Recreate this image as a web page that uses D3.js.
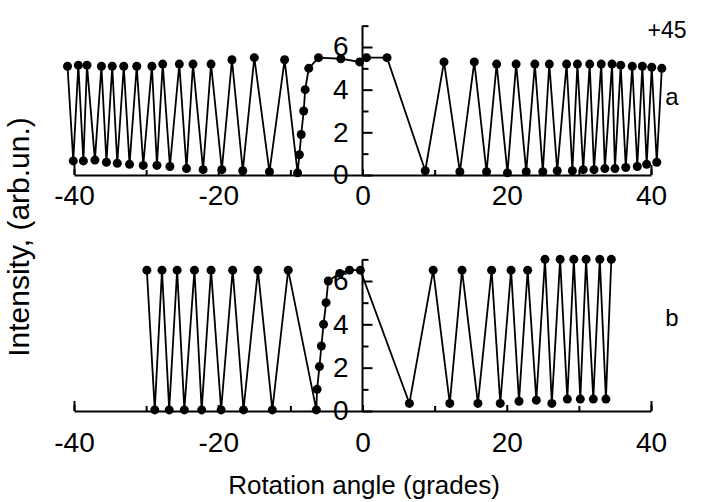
<!DOCTYPE html>
<html>
<head>
<meta charset="utf-8">
<script src="https://cdn.jsdelivr.net/npm/d3@7"></script>
<style>
  body { margin: 0; background: #fff; }
  text { font-family: "Liberation Sans", Arial, sans-serif; fill: #000; }
</style>
</head>
<body>
<script>
// panel a
const angleA = [-40.9, -40.1, -39.4, -38.7, -38.2, -37.1, -36.2, -35.5, -34.7, -34.0,
  -33.1, -32.3, -31.3, -30.4, -29.2, -28.5, -27.7, -26.7, -25.4, -24.4,
  -23.5, -22.1, -21.0, -19.5, -18.1, -16.6, -15.0, -12.9, -10.8, -9.0,
  -8.75, -8.5, -8.15, -7.95, -7.45, -6.1, -3.0, -0.4, 0.55, 3.4,
  8.7, 11.3, 13.5, 15.5, 17.2, 18.6, 20.1, 21.3, 22.7, 23.9,
  25.0, 25.9, 27.0, 28.3, 29.1, 29.8, 30.6, 31.5, 32.1, 33.1,
  33.6, 34.6, 35.0, 35.8, 36.5, 37.4, 38.1, 38.8, 39.4, 40.1,
  40.8, 41.5];
const intensityA = [5.1, 0.66, 5.15, 0.66, 5.15, 0.7, 5.1, 0.6, 5.1, 0.55,
  5.1, 0.5, 5.1, 0.45, 5.1, 0.45, 5.2, 0.4, 5.2, 0.3,
  5.2, 0.25, 5.2, 0.25, 5.4, 0.2, 5.5, 0.15, 5.4, 0.1,
  0.95, 1.9, 3.0, 4.0, 5.0, 5.5, 5.45, 5.3, 5.5, 5.5,
  0.2, 5.3, 0.15, 5.3, 0.15, 5.2, 0.1, 5.2, 0.15, 5.2,
  0.15, 5.2, 0.2, 5.2, 0.2, 5.2, 0.25, 5.2, 0.25, 5.2,
  0.3, 5.2, 0.3, 5.15, 0.35, 5.1, 0.4, 5.1, 0.5, 5.05,
  0.6, 5.0];

// panel b
const angleB = [-29.9, -28.8, -27.8, -26.8, -25.7, -24.7, -23.3, -22.3, -21.0, -19.6,
  -18.0, -16.5, -14.5, -12.5, -10.3, -6.4, -6.3, -5.97, -5.7, -5.4,
  -5.05, -4.75, -3.15, -1.8, -0.3, 6.5, 9.8, 12.1, 13.8, 16.0,
  17.9, 19.1, 20.6, 21.7, 22.9, 24.1, 25.3, 26.25, 27.4, 28.4,
  29.3, 30.2, 31.0, 32.0, 32.9, 33.75, 34.5];
const intensityB = [6.5, 0.05, 6.5, 0.05, 6.5, 0.05, 6.5, 0.05, 6.5, 0.05,
  6.5, 0.05, 6.5, 0.05, 6.5, 0.05, 1.0, 2.05, 3.0, 4.0,
  5.0, 6.0, 6.35, 6.5, 6.5, 0.35, 6.5, 0.35, 6.5, 0.35,
  6.5, 0.35, 6.5, 0.45, 6.5, 0.5, 7.0, 0.35, 7.0, 0.55,
  7.0, 0.55, 7.0, 0.55, 7.0, 0.55, 7.0];

const xTicks = [-40, -20, 0, 20, 40];
const xMinor = [-30, -10, 10, 30];
const yTicks = [0, 2, 4, 6];
const yMinor = [1, 3, 5, 7];

const width = 706, height = 502;
const fmt = d => String(d); // plain hyphen minus, like the original

const svg = d3.select("body").append("svg")
  .attr("width", width)
  .attr("height", height);

const x = d3.scaleLinear().domain([-40, 40]).range([74, 651]);

const panels = [
  { angle: angleA, intensity: intensityA, y0: 175, y6: 47, labelPad: 10, name: "a", nameY: 97 },
  { angle: angleB, intensity: intensityB, y0: 411, y6: 281, labelPad: 21, name: "b", nameY: 318 }
];

panels.forEach(p => {
  const y = d3.scaleLinear().domain([0, 6]).range([p.y0, p.y6]);
  const g = svg.append("g");

  // x axis
  g.append("g")
    .attr("transform", `translate(0,${p.y0})`)
    .call(d3.axisBottom(x).tickValues(xTicks).tickFormat(fmt).tickSize(-6).tickSizeOuter(0).tickPadding(p.labelPad));
  g.append("g")
    .attr("transform", `translate(0,${p.y0})`)
    .call(d3.axisBottom(x).tickValues(xMinor).tickSize(-5).tickFormat(""))
    .call(a => a.select(".domain").remove());
  g.append("g")
    .attr("transform", `translate(0,${p.y0})`)
    .call(d3.axisBottom(x).tickValues([-40, 40]).tickSize(-10).tickFormat(""))
    .call(a => a.select(".domain").remove());

  // y axis at 0
  g.append("g")
    .attr("transform", `translate(${x(0)},0)`)
    .call(d3.axisLeft(y).tickValues(yTicks).tickFormat(fmt).tickSize(-10).tickSizeOuter(0).tickPadding(14))
    .call(a => a.select(".domain").attr("d", `M0,${y(0)}V${y(7)}`));
  g.append("g")
    .attr("transform", `translate(${x(0)},0)`)
    .call(d3.axisLeft(y).tickValues(yMinor).tickSize(-6).tickFormat(""))
    .call(a => a.select(".domain").remove());

  g.selectAll(".domain, .tick line")
    .attr("stroke", "#000")
    .attr("stroke-width", 2);
  g.selectAll("g").attr("font-size", null).attr("font-family", null);
  g.selectAll(".tick text")
    .style("font-size", "28px");

  const pts = p.angle.map((a, i) => [a, p.intensity[i]]);

  g.append("path")
    .datum(pts)
    .attr("fill", "none")
    .attr("stroke", "#000")
    .attr("stroke-width", 1.8)
    .attr("d", d3.line().x(d => x(d[0])).y(d => y(d[1])));

  g.selectAll("circle")
    .data(pts)
    .join("circle")
    .attr("cx", d => x(d[0]))
    .attr("cy", d => y(d[1]))
    .attr("r", 4.5)
    .attr("fill", "#000");

  svg.append("text")
    .attr("x", 672)
    .attr("y", p.nameY)
    .attr("text-anchor", "middle")
    .attr("dy", "0.35em")
    .style("font-size", "24px")
    .text(p.name);
});

svg.append("text")
  .attr("x", 667)
  .attr("y", 30)
  .attr("text-anchor", "middle")
  .attr("dy", "0.35em")
  .style("font-size", "23px")
  .text("+45");

svg.append("text")
  .attr("transform", "translate(18,237) rotate(-90)")
  .attr("text-anchor", "middle")
  .attr("dy", "0.35em")
  .style("font-size", "30px")
  .text("Intensity, (arb.un.)");

svg.append("text")
  .attr("x", 364)
  .attr("y", 485)
  .attr("text-anchor", "middle")
  .attr("dy", "0.35em")
  .style("font-size", "26px")
  .text("Rotation angle (grades)");
</script>
</body>
</html>
